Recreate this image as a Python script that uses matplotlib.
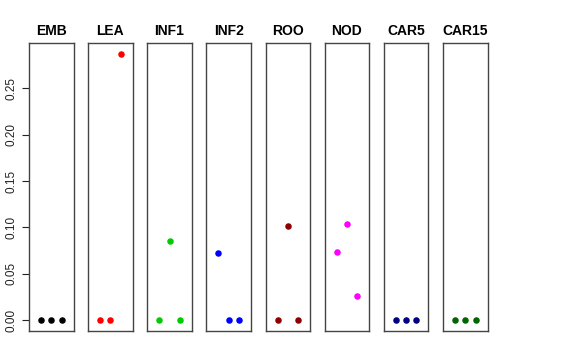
import matplotlib

matplotlib.use("Agg")
import matplotlib.pyplot as plt

plt.rcParams["font.family"] = ["Liberation Sans", "DejaVu Sans"]

tissues = ["EMB", "LEA", "INF1", "INF2", "ROO", "NOD", "CAR5", "CAR15"]
colors = ["black", "red", "#00CD00", "blue", "#8B0000", "magenta", "#000080", "#006400"]
positions = [1, 2, 3]

emb = [0.0, 0.0, 0.0]
lea = [0.0, 0.0, 0.287]
inf1 = [0.0, 0.0855, 0.0]
inf2 = [0.0722, 0.0, 0.0]
roo = [0.0, 0.101, 0.0]
nod = [0.0733, 0.1038, 0.0262]
car5 = [0.0, 0.0, 0.0]
car15 = [0.0, 0.0, 0.0]
values = [emb, lea, inf1, inf2, roo, nod, car5, car15]

W, H = 576, 360
fig = plt.figure(figsize=(W / 100, H / 100), dpi=100)

left0, step, width = 29, 59.15, 44.5
top, bottom = 43, 331
ymax = max(max(v) for v in values)
pad = ymax * 0.04

for i, (name, col, vals) in enumerate(zip(tissues, colors, values)):
    ax = fig.add_axes([(left0 + i * step) / W, (H - bottom) / H,
                       width / W, (bottom - top) / H])
    ax.scatter(positions, vals, s=22, color=col, linewidths=0, zorder=3)
    ax.set_xlim(-0.16, 4.16)
    ax.set_ylim(-pad, ymax + pad)
    ax.set_xticks([])
    for sp in ax.spines.values():
        sp.set_linewidth(1.0)
        sp.set_color("#444444")
    ax.set_title(name, fontsize=10, fontweight="bold", pad=6)
    if i == 0:
        ax.set_yticks([0, 0.05, 0.10, 0.15, 0.20, 0.25])
        ax.set_yticklabels(["0.00", "0.05", "0.10", "0.15", "0.20", "0.25"],
                           rotation=90, va="center", fontsize=8.5)
        ax.tick_params(axis="y", length=5, width=0.8, pad=3, colors="#222222")
    else:
        ax.set_yticks([])

fig.savefig("out.png", dpi=100)
